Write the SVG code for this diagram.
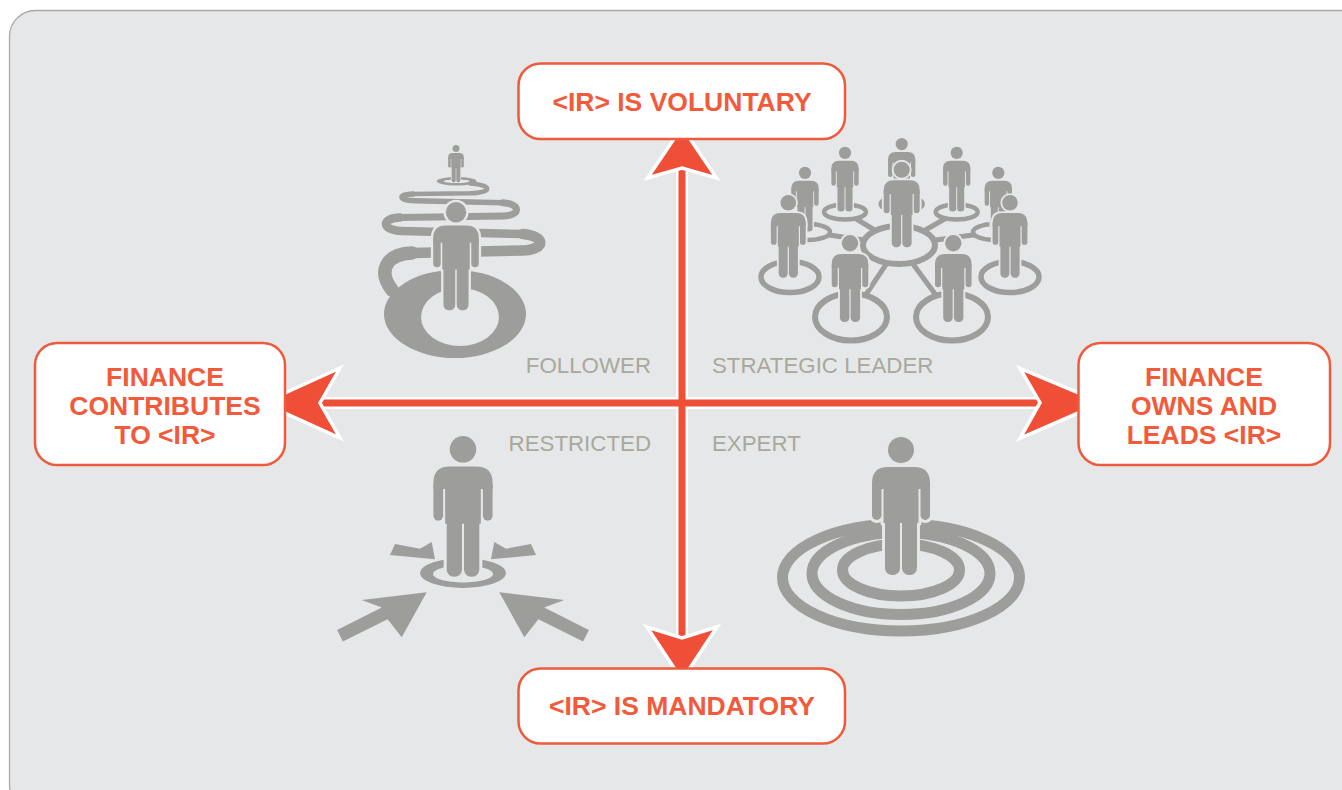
<svg xmlns="http://www.w3.org/2000/svg" xmlns:xlink="http://www.w3.org/1999/xlink" width="1342" height="790" viewBox="0 0 1342 790">
<style>
.bt{font-family:"Liberation Sans",Arial,sans-serif;font-weight:bold;font-size:26.5px;fill:#f15a3b;text-anchor:middle}
.ql{font-family:"Liberation Sans",Arial,sans-serif;font-size:22.3px;fill:#a8a89d}
.box{fill:#ffffff;stroke:#ee5a3c;stroke-width:2.5}
.g{fill:#9d9d9b}
.halo{fill:#e6e7e8;stroke:#e6e7e8;stroke-width:6;stroke-linejoin:round}
.ring{fill:none;stroke:#9d9d9b}
.ringf{fill:#e6e7e8;stroke:#9d9d9b}
.spoke{stroke:#9d9d9b;stroke-width:5;fill:none}
.band{fill:none;stroke:#9d9d9b;stroke-linecap:round}
.ax{stroke:#f04f37;stroke-width:7;fill:none}
.axw{stroke:#ffffff;stroke-width:12;fill:none}
.ah{fill:#f04f37;stroke:#ffffff;stroke-width:3.5;stroke-linejoin:miter}
</style>
<defs>
<g id="person">
<circle cx="0" cy="13" r="13"/>
<path d="M-29,46 Q-29,30 -13,30 L13,30 Q29,30 29,46 L29,52 L-29,52 Z"/>
<rect x="-29" y="44" width="9.5" height="39" rx="4.75"/>
<rect x="19.5" y="44" width="9.5" height="39" rx="4.75"/>
<rect x="-17.5" y="48" width="35" height="38"/>
<rect x="-16" y="78" width="15" height="60" rx="7"/>
<rect x="1" y="78" width="15" height="60" rx="7"/>
</g>
</defs>
<rect x="0" y="0" width="1342" height="790" fill="#ffffff"/>
<rect id="panel" x="9.5" y="10.5" width="1380" height="800" rx="26" fill="#e6e7e8" stroke="#a9a9a1" stroke-width="1.3"/>

<g id="follower">
<path class="g" fill-rule="evenodd" d="M384,314 A71,44 0 1,0 526,314 A71,44 0 1,0 384,314 Z M421,317 A39,29 0 1,0 499,317 A39,29 0 1,0 421,317 Z"/>
<path class="band" stroke-width="4.5" d="M470,183.5 C493,185 493,192.5 470,193.3 L413,194"/>
<path class="band" stroke-width="5.5" d="M413,194 C398,194.3 398,200.5 415,200.7 L503,202.7"/>
<path class="band" stroke-width="7" d="M503,202.7 C521,204 521,215.5 503,216 L400,217.5"/>
<path class="band" stroke-width="8.5" d="M400,217.5 C381,218 381,230.5 402,231 L523,234"/>
<path class="band" stroke-width="10.5" d="M523,234 C546,236 546,249.5 523,250.5 L412,253"/>
<path class="band" stroke-width="13.5" d="M412,253 C385,254 378,272 392,290"/>
<path class="g" fill-rule="evenodd" d="M436.7,181.3 A20,4.2 0 1,0 476.7,181.3 A20,4.2 0 1,0 436.7,181.3 Z M443.7,181.3 A13,1.8 0 1,0 469.7,181.3 A13,1.8 0 1,0 443.7,181.3 Z"/>
<use href="#person" class="halo" transform="translate(456,145) scale(0.27)"/>
<use href="#person" class="g" transform="translate(456,145) scale(0.27)"/>
<use href="#person" class="halo" transform="translate(456,202) scale(0.785)"/>
<use href="#person" class="g" transform="translate(456,202) scale(0.785)"/>
<text class="ql" x="651" y="373" text-anchor="end">FOLLOWER</text>
</g>

<g id="strategic-leader">
<line class="spoke" x1="899" y1="245" x2="845" y2="212"/>
<line class="spoke" x1="899" y1="245" x2="957" y2="212"/>
<line class="spoke" x1="899" y1="245" x2="808" y2="232"/>
<line class="spoke" x1="899" y1="245" x2="995" y2="232"/>
<line class="spoke" x1="899" y1="245" x2="851" y2="317"/>
<line class="spoke" x1="899" y1="245" x2="952" y2="317"/>
<ellipse class="ringf" cx="901.7" cy="204" rx="21" ry="7.5" stroke-width="4.5"/>
<ellipse class="ringf" cx="845" cy="212" rx="21" ry="7.5" stroke-width="4.5"/>
<ellipse class="ringf" cx="956.7" cy="212" rx="21" ry="7.5" stroke-width="4.5"/>
<ellipse class="ringf" cx="808" cy="232" rx="22" ry="8" stroke-width="4.5"/>
<ellipse class="ringf" cx="995" cy="232" rx="22" ry="8" stroke-width="4.5"/>
<use href="#person" class="halo" transform="translate(901.7,138) scale(0.47)"/>
<use href="#person" class="g" transform="translate(901.7,138) scale(0.47)"/>
<use href="#person" class="halo" transform="translate(845,146.7) scale(0.47)"/>
<use href="#person" class="g" transform="translate(845,146.7) scale(0.47)"/>
<use href="#person" class="halo" transform="translate(956.7,146.7) scale(0.47)"/>
<use href="#person" class="g" transform="translate(956.7,146.7) scale(0.47)"/>
<use href="#person" class="halo" transform="translate(805,166.7) scale(0.47)"/>
<use href="#person" class="g" transform="translate(805,166.7) scale(0.47)"/>
<use href="#person" class="halo" transform="translate(998.3,166.7) scale(0.47)"/>
<use href="#person" class="g" transform="translate(998.3,166.7) scale(0.47)"/>
<ellipse class="ringf" cx="899" cy="245" rx="36" ry="19" stroke-width="6"/>
<use href="#person" class="halo" transform="translate(901.7,161.7) scale(0.62)"/>
<use href="#person" class="g" transform="translate(901.7,161.7) scale(0.62)"/>
<ellipse class="ringf" cx="790" cy="277" rx="29" ry="15.5" stroke-width="5.5"/>
<ellipse class="ringf" cx="1010" cy="277" rx="29" ry="15.5" stroke-width="5.5"/>
<ellipse class="ringf" cx="851" cy="317" rx="36" ry="23.5" stroke-width="6"/>
<ellipse class="ringf" cx="952" cy="317" rx="36" ry="23.5" stroke-width="6"/>
<use href="#person" class="halo" transform="translate(788.3,195) scale(0.6)"/>
<use href="#person" class="g" transform="translate(788.3,195) scale(0.6)"/>
<use href="#person" class="halo" transform="translate(1010,195) scale(0.6)"/>
<use href="#person" class="g" transform="translate(1010,195) scale(0.6)"/>
<use href="#person" class="halo" transform="translate(850,235) scale(0.63)"/>
<use href="#person" class="g" transform="translate(850,235) scale(0.63)"/>
<use href="#person" class="halo" transform="translate(953.3,235) scale(0.63)"/>
<use href="#person" class="g" transform="translate(953.3,235) scale(0.63)"/>
<text class="ql" x="712" y="373">STRATEGIC LEADER</text>
</g>

<g id="restricted">
<path class="g" fill-rule="evenodd" d="M420,573 A43,15 0 1,0 506,573 A43,15 0 1,0 420,573 Z M433,574 A30,8.5 0 1,0 493,574 A30,8.5 0 1,0 433,574 Z"/>
<polygon class="g" points="390,555 395,544 420,548.7 431.7,542 435,559.3"/>
<polygon class="g" points="536,555 531,544 506,548.7 494.3,542 491,559.3"/>
<polygon class="g" points="337.1,630 381.8,607.6 361.7,600 426.7,592.3 401.7,637.3 387.6,619.2 342.9,641.6"/>
<polygon class="g" points="588.9,630 544.2,607.6 564.3,600 499.3,592.3 524.3,637.3 538.4,619.2 583.1,641.6"/>
<use href="#person" class="halo" transform="translate(463,436) scale(1.02)"/>
<use href="#person" class="g" transform="translate(463,436) scale(1.02)"/>
<text class="ql" x="651" y="451" text-anchor="end">RESTRICTED</text>
</g>

<g id="expert">
<ellipse class="ring" cx="901" cy="577.5" rx="118.5" ry="53.5" stroke-width="11"/>
<ellipse class="ring" cx="901" cy="573.5" rx="89" ry="41" stroke-width="11"/>
<ellipse class="ring" cx="901" cy="570" rx="58.5" ry="26" stroke-width="11"/>
<use href="#person" class="halo" transform="translate(901,437)"/>
<use href="#person" class="g" transform="translate(901,437)"/>
<text class="ql" x="712" y="451">EXPERT</text>
</g>

<g id="connectors">
<line class="axw" x1="682" y1="165" x2="682" y2="642"/>
<line class="axw" x1="320" y1="403" x2="1042" y2="403"/>
<line class="ax" x1="682" y1="165" x2="682" y2="642"/>
<line class="ax" x1="320" y1="403" x2="1042" y2="403"/>
<polygon class="ah" points="682,127 716.5,178 682,168 647.5,178"/>
<polygon class="ah" points="682,680 717,627 682,638 647,627"/>
<polygon class="ah" points="263,403 340,368 320,403 340,438"/>
<polygon class="ah" points="1101.7,402.7 1020,368.3 1040,402.7 1020,438.3"/>
</g>

<g id="box-voluntary">
<rect class="box" x="518.5" y="63.5" width="326.5" height="75.5" rx="22"/>
<text class="bt" x="682" y="111">&lt;IR&gt; IS VOLUNTARY</text>
</g>
<g id="box-mandatory">
<rect class="box" x="518.5" y="668.5" width="326.5" height="75" rx="22"/>
<text class="bt" x="682" y="715">&lt;IR&gt; IS MANDATORY</text>
</g>
<g id="box-contributes">
<rect class="box" x="35" y="343" width="250" height="122" rx="22"/>
<text class="bt" x="165" y="386">FINANCE</text>
<text class="bt" x="165" y="415">CONTRIBUTES</text>
<text class="bt" x="165" y="444">TO &lt;IR&gt;</text>
</g>
<g id="box-owns">
<rect class="box" x="1078.5" y="343" width="251.5" height="122" rx="22"/>
<text class="bt" x="1204" y="386">FINANCE</text>
<text class="bt" x="1204" y="415">OWNS AND</text>
<text class="bt" x="1204" y="444">LEADS &lt;IR&gt;</text>
</g>
</svg>
